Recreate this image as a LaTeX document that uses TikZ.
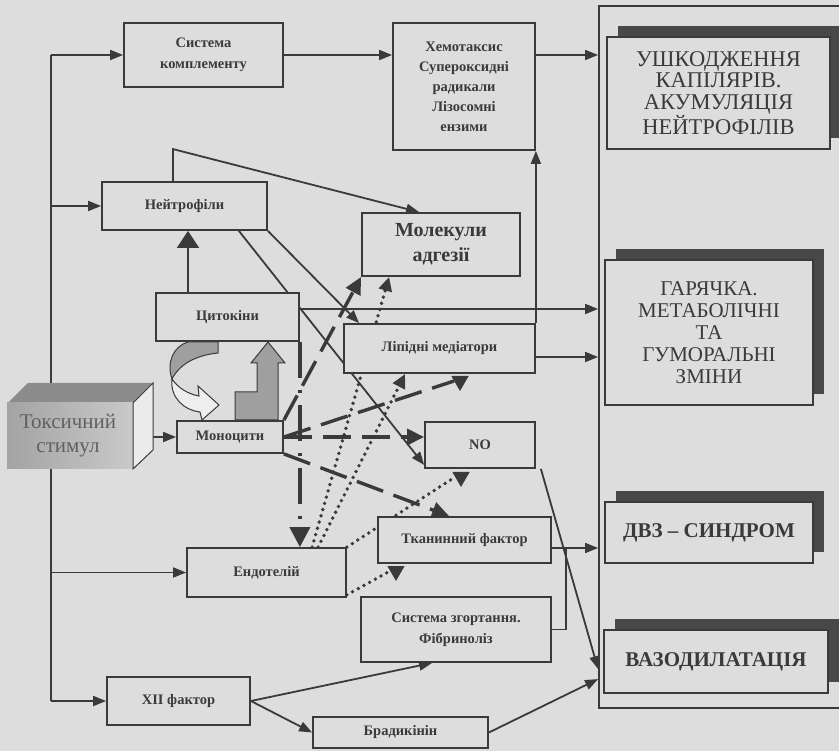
\documentclass[tikz,border=0pt]{standalone}
\usepackage{fontspec}
\setmainfont{Liberation Serif}
\usetikzlibrary{arrows.meta,calc,shadows,shapes.geometric}
\definecolor{paper}{RGB}{221,221,221}
\definecolor{ink}{RGB}{58,58,58}
\definecolor{shade}{RGB}{72,72,72}
\pgfdeclarelayer{paperlayer}
\pgfdeclarelayer{links}
\pgfsetlayers{paperlayer,links,main}
\begin{document}
\begin{tikzpicture}[x=1pt,y=-1pt,
  box/.style={draw=ink, line width=1.8pt, fill=paper, align=center, inner sep=0pt, text=ink,
    font=\fontsize{14.5}{21}\selectfont\bfseries},
  outbox/.style={box, line width=2pt, font=\fontsize{21}{22}\selectfont,
    drop shadow={shadow xshift=11pt, shadow yshift=11pt, fill=shade, opacity=1}},
  ln/.style={draw=ink, line width=1.8pt},
  arr/.style={ln, -{Triangle[length=13pt,width=10pt]}},
  thickdash/.style={draw=ink, line width=3.4pt, dash pattern=on 28pt off 11pt},
  thickarr/.style={thickdash, -{Triangle[length=17pt,width=16pt]}},
  dashdotline/.style={draw=ink, line width=3.6pt, dash pattern=on 36pt off 12pt on 3pt off 12pt,
    -{Triangle[length=20pt,width=20pt]}},
  dotline/.style={draw=ink, line width=3.8pt, line cap=round, dash pattern=on 0pt off 6.5pt},
  dotarr/.style={dotline, -{Triangle[length=14pt,width=13pt]}},
  tipdown/.style={regular polygon, regular polygon sides=3, shape border rotate=180,
    minimum size=20pt, inner sep=0pt, fill=ink},
  blockarr/.style={draw=ink, line width=1pt}]

\begin{pgfonlayer}{paperlayer}
  \fill[paper] (0,0) rectangle (839,751);
\end{pgfonlayer}
\useasboundingbox (0,0) rectangle (839,751);

% outcome frame and results
\node[draw=ink, line width=1.8pt, minimum width=270pt, minimum height=702pt, inner sep=0pt] (outcome) at (734,357) {};
\node[outbox, minimum width=223pt, minimum height=112pt, font=\fontsize{22.5}{21.5}\selectfont] (damage) at (718.5,93) {УШКОДЖЕННЯ\\КАПІЛЯРІВ.\\АКУМУЛЯЦІЯ\\НЕЙТРОФІЛІВ};
\node[outbox, minimum width=208pt, minimum height=145pt] (fever) at (709,332.5) {ГАРЯЧКА.\\МЕТАБОЛІЧНІ\\ТА\\ГУМОРАЛЬНІ\\ЗМІНИ};
\node[outbox, minimum width=208pt, minimum height=61pt, font=\fontsize{21}{22}\selectfont\bfseries] (dic) at (709,532.5) {ДВЗ – СИНДРОМ};
\node[outbox, minimum width=224pt, minimum height=63pt, font=\fontsize{21}{22}\selectfont\bfseries] (vaso) at (716,661.5) {ВАЗОДИЛАТАЦІЯ};

% mediators
\node[box, minimum width=159pt, minimum height=64pt] (kompl) at (203.5,55) {Система\\комплементу};
\node[box, minimum width=142pt, minimum height=127pt, font=\fontsize{14.5}{20}\selectfont\bfseries] (khemo) at (464,86.5) {Хемотаксис\\Супероксидні\\радикали\\Лізосомні\\ензими};
\node[box, minimum width=165pt, minimum height=48pt] (neutro) at (184.5,206) {Нейтрофіли};
\node[box, minimum width=158pt, minimum height=63pt, font=\fontsize{20}{25}\selectfont\bfseries] (molek) at (441,244.5) {Молекули\\адгезії};
\node[box, minimum width=143pt, minimum height=48pt] (cyto) at (227.5,317) {Цитокіни};
\node[box, minimum width=191pt, minimum height=49pt] (lipid) at (439.5,348.5) {Ліпідні медіатори};
\node[box, minimum width=106pt, minimum height=32pt] (mono) at (230,437) {Моноцити};
\node[box, minimum width=110pt, minimum height=46pt] (no) at (480,445) {NO};
\node[box, minimum width=173pt, minimum height=46pt] (tissue) at (464.5,540) {Тканинний фактор};
\node[box, minimum width=159pt, minimum height=49pt] (endo) at (266.5,572.5) {Ендотелій};
\node[box, minimum width=190pt, minimum height=65pt] (coag) at (456,629.5) {Система згортання.\\Фібриноліз};
\node[box, minimum width=143pt, minimum height=48pt] (xii) at (178.5,701) {XII фактор};
\node[box, minimum width=175pt, minimum height=31pt] (brady) at (400.5,732.5) {Брадикінін};

% toxic stimulus block
\fill[gray!90] (8,403) -- (28,383) -- (153,383) -- (133,403) -- cycle;
\shade[left color=gray!72, right color=gray!42] (7,403) rectangle (133,469);
\filldraw[fill=paper!60!white, draw=ink, line width=1pt] (133,403) -- (153,383) -- (153,450) -- (133,469) -- cycle;
\node[text=gray!75!black, align=center, font=\fontsize{21}{24}\selectfont] (toxic) at (68,436) {Токсичний\\стимул};

% cytokine loop
\filldraw[blockarr, fill=gray!75] (188,342) -- (218,342) -- (218,353) .. controls (198,355) and (180,363) .. (172,379)
  .. controls (166,362) and (174,346) .. (188,342) -- cycle;
\filldraw[blockarr, fill=paper!50!white] (172,379) .. controls (170,398) and (184,410) .. (200,412) -- (202,420)
  -- (219,405) -- (198,386) -- (199,396) .. controls (188,394) and (178,388) .. (172,379) -- cycle;
\filldraw[blockarr, fill=gray!75] (235,420) -- (235,392) -- (257,392) -- (257,363) -- (251,363) -- (268,342)
  -- (285,363) -- (278,363) -- (278,420) -- cycle;

% ends of the arrows under the boxes
\node[tipdown] (tlipid) at (460,381) {};
\node[tipdown] (tno) at (461,477) {};
\node[tipdown] (ttissue) at (396,571) {};

\begin{pgfonlayer}{links}
  \coordinate (bustop) at (51,55);
  \draw[ln] (bustop) -- (bustop |- xii.west);
  \draw[arr] (bustop) -- (kompl.west);
  \draw[arr] (bustop |- neutro.west) -- (neutro.west);
  \draw[arr] (bustop |- endo.west) -- (endo.west);
  \draw[arr] (bustop |- xii.west) -- (xii.west);
  \draw[arr] (143,437) -- (mono.west);

  \draw[arr] (kompl.east) -- (kompl.east -| khemo.west);
  \draw[arr] (kompl.east -| khemo.east) -- (kompl.east -| outcome.west);
  \draw[arr] ([xshift=-11.5pt]neutro.north) -- ++(0,-32) -- ($(molek.north west)+(58,0)$);
  \draw[arr] (neutro.south east) -- ($(lipid.north west)+(16,0)$);
  \draw[arr] ($(neutro.south east)+(-29,0)$) -- ($(no.south west)+(0,-4)$);
  \draw[ln, -{Triangle[length=17pt,width=22pt]}] ([xshift=-39.5pt]cyto.north) -- ([xshift=-39.5pt]cyto.north |- neutro.south);
  \draw[arr] ([yshift=8pt]cyto.east) -- ([yshift=8pt]cyto.east -| outcome.west);
  \draw[arr] ([yshift=-8.5pt]lipid.east) -- ([yshift=-8.5pt]lipid.east -| outcome.west);
  \draw[arr] (lipid.north east) -- (khemo.south east);
  \draw[arr] ([yshift=-8pt]tissue.east) -- ([yshift=-8pt]tissue.east -| outcome.west);
  \draw[ln] (coag.east) -- ++(14,0) |- ([yshift=-8pt]tissue.east);
  \draw[arr] ($(no.south east)+(5,0)$) -- ($(outcome.north west)+(0,664)$);
  \draw[arr] (brady.east) -- ($(outcome.north west)+(0,674)$);
  \draw[arr] (xii.east) -- ($(coag.south west)+(72,0)$);
  \draw[arr] (xii.east) -- (brady.west);

  % monocytes
  \draw[thickarr] (mono.north east) -- (molek.south west);
  \draw[thickdash] (mono.east) -- (tlipid.west);
  \draw[thickarr] (mono.east) -- (mono.east -| no.west);
  \draw[thickarr] (mono.south east) -- ($(tissue.north west)+(72,0)$);
  \draw[dashdotline] (cyto.south east) -- (cyto.south east |- endo.north);

  % endothelium
  \draw[dotarr] ($(endo.north west)+(126,0)$) -- ($(molek.south west)+(28,0)$);
  \draw[dotarr] ($(endo.north west)+(132,0)$) -- ($(lipid.south west)+(62,0)$);
  \draw[dotline] (endo.north east) -- (tno.west);
  \draw[dotline] ($(endo.south east)+(0,-3)$) -- (ttissue.west);
\end{pgfonlayer}
\end{tikzpicture}
\end{document}
